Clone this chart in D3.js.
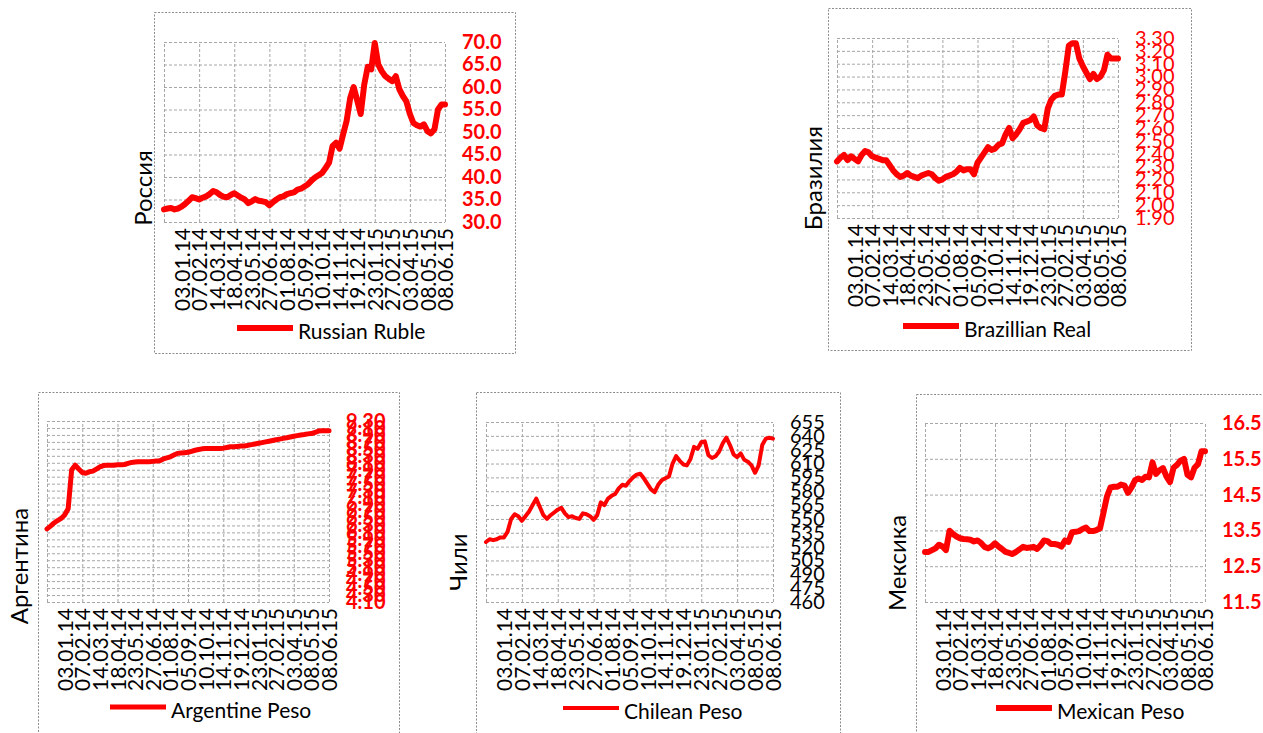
<!DOCTYPE html>
<html>
<head>
<meta charset="utf-8">
<script src="https://cdnjs.cloudflare.com/ajax/libs/d3/7.8.5/d3.min.js"></script>
<style>
  body { margin: 0; background: #fff; }
  svg  { display: block; font-family: Lato, "Open Sans", sans-serif; }
</style>
</head>
<body>
<script>
/////////////////////////////////////////////////
// data - weekly rates, 81 points per currency
/////////////////////////////////////////////////
var dateLabels = ["03.01.14", "07.02.14", "14.03.14", "18.04.14", "23.05.14", "27.06.14",
                  "01.08.14", "05.09.14", "10.10.14", "14.11.14", "19.12.14", "23.01.15",
                  "27.02.15", "03.04.15", "08.05.15", "08.06.15"];
// category index where each date label sits
var labelIndex = [5, 10, 15, 20, 25, 30, 35, 40, 45, 50, 55, 60, 65, 70, 75, 80];

var rubValues = [32.8, 33.0, 33.1, 32.8, 33.0, 33.4, 34.0, 34.7, 35.5, 35.3,
                 35.0, 35.4, 35.7, 36.2, 36.9, 36.6, 36.0, 35.6, 35.5, 36.0,
                 36.4, 35.9, 35.4, 35.0, 34.2, 34.6, 35.1, 34.7, 34.6, 34.4,
                 33.7, 34.4, 35.0, 35.5, 35.7, 36.2, 36.4, 36.6, 37.2, 37.4,
                 37.9, 38.4, 39.2, 39.9, 40.4, 40.9, 42.0, 43.2, 46.9, 47.6,
                 46.3, 49.5, 52.5, 57.5, 60.0, 57.0, 54.0, 60.5, 64.5, 63.9,
                 69.8, 65.0, 63.5, 62.4, 61.8, 61.3, 62.4, 59.5, 58.0, 56.8,
                 54.0, 52.0, 51.5, 51.2, 51.7, 50.2, 49.7, 50.6, 55.0, 56.1, 56.1];

var brlValues = [2.34, 2.37, 2.39, 2.35, 2.38, 2.36, 2.34, 2.39, 2.42, 2.41,
                 2.38, 2.37, 2.36, 2.35, 2.35, 2.31, 2.27, 2.24, 2.22, 2.23,
                 2.25, 2.23, 2.22, 2.21, 2.23, 2.24, 2.25, 2.24, 2.21, 2.19,
                 2.20, 2.22, 2.23, 2.24, 2.26, 2.29, 2.27, 2.28, 2.28, 2.24,
                 2.33, 2.37, 2.41, 2.45, 2.43, 2.44, 2.47, 2.48, 2.55, 2.60,
                 2.52, 2.55, 2.59, 2.64, 2.65, 2.66, 2.69, 2.62, 2.60, 2.59,
                 2.75, 2.82, 2.85, 2.86, 2.86, 3.04, 3.24, 3.26, 3.26, 3.14,
                 3.08, 3.03, 2.98, 3.02, 2.98, 3.00, 3.05, 3.17, 3.14, 3.14, 3.14];

var arsValues = [6.20, 6.28, 6.37, 6.44, 6.50, 6.60, 6.78, 7.90, 8.03, 7.92,
                 7.82, 7.80, 7.84, 7.86, 7.92, 7.98, 8.02, 8.03, 8.03, 8.03,
                 8.04, 8.04, 8.05, 8.08, 8.11, 8.12, 8.13, 8.13, 8.13, 8.13,
                 8.14, 8.15, 8.16, 8.21, 8.24, 8.27, 8.32, 8.37, 8.38, 8.39,
                 8.40, 8.43, 8.46, 8.48, 8.50, 8.51, 8.51, 8.51, 8.51, 8.51,
                 8.52, 8.54, 8.56, 8.56, 8.57, 8.58, 8.58, 8.60, 8.62, 8.64,
                 8.66, 8.68, 8.70, 8.72, 8.74, 8.76, 8.78, 8.80, 8.82, 8.84,
                 8.86, 8.88, 8.90, 8.91, 8.93, 8.94, 8.97, 9.01, 9.02, 9.02, 9.02];

var clpValues = [525, 528, 527, 528, 530, 530, 536, 550, 555, 553,
                 548, 553, 558, 565, 572, 563, 554, 550, 554, 557,
                 560, 562, 556, 552, 553, 551, 550, 556, 555, 553,
                 549, 554, 568, 565, 572, 575, 577, 583, 587, 586,
                 591, 595, 598, 599, 594, 588, 582, 579, 587, 592,
                 594, 596, 610, 618, 613, 609, 608, 615, 628, 626,
                 633, 634, 619, 616, 618, 623, 632, 638, 630, 620,
                 617, 621, 614, 612, 608, 600, 608, 630, 637, 638, 637];

var mxnValues = [12.90, 12.90, 12.95, 13.00, 13.10, 13.05, 12.95, 13.49, 13.40, 13.33,
                 13.28, 13.26, 13.25, 13.24, 13.19, 13.22, 13.15, 13.04, 13.00, 13.05,
                 13.14, 13.05, 12.98, 12.90, 12.87, 12.84, 12.90, 12.97, 13.04, 13.01,
                 13.02, 13.04, 12.98, 13.08, 13.22, 13.20, 13.12, 13.12, 13.10, 13.05,
                 13.22, 13.18, 13.45, 13.46, 13.48, 13.54, 13.58, 13.48, 13.48, 13.51,
                 13.56, 14.00, 14.45, 14.70, 14.72, 14.72, 14.78, 14.75, 14.55, 14.70,
                 14.90, 14.95, 14.91, 15.00, 14.98, 15.40, 15.08, 15.18, 15.24, 15.00,
                 14.85, 15.25, 15.33, 15.45, 15.50, 15.05, 14.98, 15.25, 15.35, 15.71, 15.71];

// right axis ticks: [min, max, step]
var rubTicks = [30, 70, 5];
var brlTicks = [1.9, 3.3, 0.1];
var arsTicks = [4.1, 9.3, 0.2];
var clpTicks = [460, 655, 15];
var mxnTicks = [11.5, 16.5, 1];

/////////////////////////////////////////////////
// locals
/////////////////////////////////////////////////
var width  = 1263,
    height = 733;

var panels = [
  { title: "Россия",   name: "Russian Ruble",   values: rubValues, ticks: rubTicks, fmt: ".1f",
    tickColor: "#ff0000", bold: true,  lineW: 6,
    box: [154, 12, 515, 353],  plot: [164, 42, 445, 222],  titleX: 152, titleY: 188, legendX: 237, legendY: 328 },
  { title: "Бразилия", name: "Brazillian Real", values: brlValues, ticks: brlTicks, fmt: ".2f",
    tickColor: "#ff0000", bold: false, lineW: 6,
    box: [828, 8, 1191, 350],  plot: [837, 38, 1118, 218], titleX: 822, titleY: 178, legendX: 903, legendY: 326 },
  { title: "Аргентина", name: "Argentine Peso", values: arsValues, ticks: arsTicks, fmt: ".2f",
    tickColor: "#ff0000", bold: true,  lineW: 5,
    box: [38, 392, 399, 745],  plot: [47, 421, 329, 602],  titleX: 28,  titleY: 566, legendX: 110, legendY: 707 },
  { title: "Чили",     name: "Chilean Peso",    values: clpValues, ticks: clpTicks, fmt: "d",
    tickColor: "#000000", bold: false, lineW: 4,
    box: [476, 392, 840, 745], plot: [486, 422, 773, 602], titleX: 467, titleY: 562, legendX: 563, legendY: 708 },
  { title: "Мексика",  name: "Mexican Peso",    values: mxnValues, ticks: mxnTicks, fmt: ".1f",
    tickColor: "#ff0000", bold: true,  lineW: 6,
    box: [916, 394, 1290, 745], plot: [925, 423, 1205, 602], titleX: 906, titleY: 563, legendX: 996, legendY: 708 }
];

var svg = d3.select("body").append("svg")
    .attr("width", width)
    .attr("height", height);

/////////////////////////////////////////////////
// drawPanel - one currency chart
/////////////////////////////////////////////////
function drawPanel(p) {
  var x0 = p.plot[0], y0 = p.plot[1], x1 = p.plot[2], y1 = p.plot[3];
  var g = svg.append("g");

  // outer dotted frame
  g.append("rect")
    .attr("x", p.box[0] + 0.5)
    .attr("y", p.box[1] + 0.5)
    .attr("width", p.box[2] - p.box[0])
    .attr("height", p.box[3] - p.box[1])
    .attr("fill", "none")
    .attr("stroke", "#8c8c8c")
    .attr("stroke-dasharray", "2,1.5");

  var x = d3.scalePoint()
    .domain(d3.range(p.values.length))
    .range([x0, x1]);

  var yTickVals = d3.range(0, Math.round((p.ticks[1] - p.ticks[0]) / p.ticks[2]) + 1)
    .map(function(k) { return +(p.ticks[0] + k * p.ticks[2]).toFixed(2); });

  var y = d3.scaleLinear()
    .domain([p.ticks[0], p.ticks[1]])
    .range([y1, y0]);

  // horizontal grid
  g.append("g")
    .attr("class", "grid")
    .attr("transform", "translate(" + x0 + ",0)")
    .call(d3.axisLeft(y).tickValues(yTickVals).tickSize(-(x1 - x0)).tickFormat(""));

  // vertical grid, every 10 weeks
  g.append("g")
    .attr("class", "grid")
    .attr("transform", "translate(0," + y1 + ")")
    .call(d3.axisBottom(x).tickValues(d3.range(0, p.values.length, 10)).tickSize(-(y1 - y0)).tickFormat(""));

  g.selectAll(".grid .domain").remove();
  g.selectAll(".grid line")
    .attr("stroke", "#a6a6a6")
    .attr("stroke-dasharray", "3,2");

  // date labels
  var xa = g.append("g")
    .attr("transform", "translate(0," + y1 + ")")
    .call(d3.axisBottom(x)
      .tickValues(labelIndex)
      .tickSize(0)
      .tickFormat(function(d) { return dateLabels[labelIndex.indexOf(d)]; }));
  xa.select(".domain").remove();
  xa.selectAll("text")
    .attr("transform", "rotate(-90)")
    .attr("x", -6)
    .attr("y", 0)
    .attr("dy", "0.36em")
    .style("text-anchor", "end")
    .style("font-size", "21px")
    .style("font-family", "Lato, 'Open Sans', sans-serif")
    .attr("fill", "#000");

  // right value axis
  var ya = g.append("g")
    .attr("transform", "translate(" + x1 + ",0)")
    .call(d3.axisRight(y)
      .tickValues(yTickVals)
      .tickSize(0)
      .tickPadding(17)
      .tickFormat(d3.format(p.fmt)));
  ya.select(".domain").remove();
  ya.selectAll("text")
    .style("font-size", "20px")
    .style("font-family", "Lato, 'Open Sans', sans-serif")
    .style("font-weight", p.bold ? "bold" : "normal")
    .attr("fill", p.tickColor);

  // the series
  var line = d3.line()
    .x(function(d, i) { return x(i); })
    .y(function(d) { return y(d); });

  g.append("path")
    .datum(p.values)
    .attr("d", line)
    .attr("fill", "none")
    .attr("stroke", "#ff0000")
    .attr("stroke-width", p.lineW)
    .attr("stroke-linejoin", "round")
    .attr("stroke-linecap", "round");

  // rotated country title
  g.append("text")
    .attr("transform", "translate(" + p.titleX + "," + p.titleY + ") rotate(-90)")
    .attr("text-anchor", "middle")
    .style("font-size", "24px")
    .text(p.title);

  // legend
  g.append("line")
    .attr("x1", p.legendX)
    .attr("x2", p.legendX + 56)
    .attr("y1", p.legendY)
    .attr("y2", p.legendY)
    .attr("stroke", "#ff0000")
    .attr("stroke-width", p.lineW);

  g.append("text")
    .attr("x", p.legendX + 61)
    .attr("y", p.legendY + 11)
    .style("font-size", "21px")
    .text(p.name);
}

panels.forEach(drawPanel);
</script>
</body>
</html>
